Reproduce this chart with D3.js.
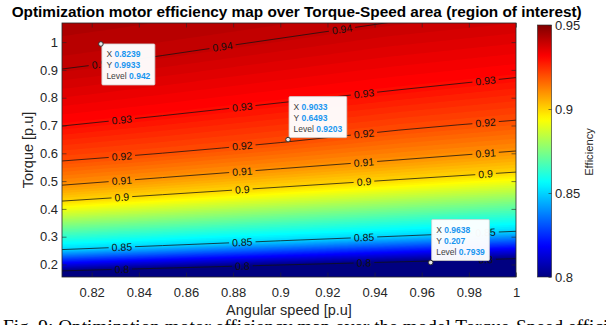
<!DOCTYPE html>
<html><head><meta charset="utf-8">
<script src="https://cdn.jsdelivr.net/npm/d3@7"></script>
<style>
html,body{margin:0;padding:0;background:#fff;}
svg{display:block;font-family:"Liberation Sans",Arial,Helvetica,sans-serif;}
</style></head><body>
<svg id="chart" width="606" height="325"></svg>
<script>
// ---------------- data ----------------
const xDomain = [0.8074, 1.0];          // angular speed [p.u]
const yDomain = [0.155, 1.0687];        // torque [p.u]
const effDomain = [0.80, 0.95];         // colour limits
const xTicks = [0.82, 0.84, 0.86, 0.88, 0.90, 0.92, 0.94, 0.96, 0.98, 1.00];
const yTicks = [0.2, 0.3, 0.4, 0.5, 0.6, 0.7, 0.8, 0.9, 1.0];
const cbTicks = [0.80, 0.85, 0.90, 0.95];

// contour lines: torque at which each level is reached, at these speeds
const speedKnots = [0.8074, 0.85, 0.90, 0.95, 1.00];
const contourLevels = [0.80, 0.85, 0.90, 0.91, 0.92, 0.93];
const torque080 = [0.1770, 0.1867, 0.1982, 0.2094, 0.2209];
const torque085 = [0.2536, 0.2680, 0.2853, 0.3022, 0.3194];
const torque090 = [0.4281, 0.4511, 0.4784, 0.5054, 0.5324];
const torque091 = [0.4853, 0.5126, 0.5446, 0.5763, 0.6083];
const torque092 = [0.5723, 0.6004, 0.6385, 0.6831, 0.7191];
const torque093 = [0.6982, 0.7353, 0.7817, 0.8281, 0.8723];
const speed094 = [0.8074, 0.8243, 0.8755, 0.9262, 0.9503];
const torque094 = [0.9032, 0.9212, 0.9835, 1.0460, 1.0759];
// efficiency along the top and bottom border of the region
const topEdgeSpeed = [0.8074, 0.9444, 1.0];
const topEdgeEff = [0.9435, 0.940, 0.938];
const bottomEdgeSpeed = [0.8074, 1.0];
const bottomEdgeEff = [0.787, 0.755];
// inline contour label positions (speed)
const labelSpeeds = [0.8328, 0.8839, 0.9355, 0.9871];
const labelSpeeds094 = [0.8243, 0.8755, 0.9262];
// data tips
const tipSpeed = [0.8239, 0.9033, 0.9638];
const tipTorque = [0.9933, 0.6493, 0.207];
const tipLevel = ["0.942", "0.9203", "0.7939"];
const tipSide = ["below", "above", "above"];

const titleText = "Optimization motor efficiency map over Torque-Speed area (region of interest)";
const captionText = "Fig. 9: Optimization motor efficiency map over the model Torque-Speed efficiency";

// ---------------- layout ----------------
const svg = d3.select("#chart");
const plot = {left: 62, top: 23, right: 516, bottom: 277};
const x = d3.scaleLinear().domain(xDomain).range([plot.left, plot.right]);
const y = d3.scaleLinear().domain(yDomain).range([plot.bottom, plot.top]);
const cb = {left: 537.5, width: 14, top: 25, bottom: 277};
const cbScale = d3.scaleLinear().domain(effDomain).range([cb.bottom, cb.top]);

function jet(v) {
  const c = a => Math.max(0, Math.min(1, a));
  const r = c(1.5 - Math.abs(4 * v - 3));
  const g = c(1.5 - Math.abs(4 * v - 2));
  const b = c(1.5 - Math.abs(4 * v - 1));
  return d3.rgb(r * 255, g * 255, b * 255).toString();
}
const color = d3.scaleSequential(jet).domain(effDomain).clamp(true);

const torqueSeries = [torque080, torque085, torque090, torque091, torque092, torque093];
const lineSeries = contourLevels.map((lv, k) => ({level: lv, speeds: speedKnots, torques: torqueSeries[k], labels: labelSpeeds}));
lineSeries.push({level: 0.94, speeds: speed094, torques: torque094, labels: labelSpeeds094});
lineSeries.forEach(L => { L.f = d3.scaleLinear().domain(L.speeds).range(L.torques); });

// ---------------- efficiency grid built from the read contours ----------------
const n = 227, m = 127;
const topEff = d3.scaleLinear().domain(topEdgeSpeed).range(topEdgeEff);
const botEff = d3.scaleLinear().domain(bottomEdgeSpeed).range(bottomEdgeEff);
const values = new Array(n * m);
for (let i = 0; i < n; i++) {
  const s = xDomain[0] + (i + 0.5) / n * (xDomain[1] - xDomain[0]);
  const knots = [[yDomain[0], botEff(s)]];
  lineSeries.forEach(L => {
    const t = L.f(s);
    if (t > yDomain[0] && t < yDomain[1]) knots.push([t, L.level]);
  });
  knots.push([yDomain[1], topEff(s)]);
  knots.sort((a, b) => a[0] - b[0]);
  const f = d3.scaleLinear().domain(knots.map(k => k[0])).range(knots.map(k => k[1]));
  for (let j = 0; j < m; j++) {
    const t = yDomain[1] - (j + 0.5) / m * (yDomain[1] - yDomain[0]);
    values[j * n + i] = f(t);
  }
}

const defs = svg.append("defs");
defs.append("clipPath").attr("id", "plotClip").append("rect")
  .attr("x", plot.left).attr("y", plot.top)
  .attr("width", plot.right - plot.left).attr("height", plot.bottom - plot.top);

// filled contours
const step = 0.0015;
const thresholds = d3.range(effDomain[0], effDomain[1] + 1e-4, step);
const bands = d3.contours().size([n, m]).thresholds(thresholds)(values);
const proj = d3.geoTransform({
  point: function (px, py) {
    this.stream.point(
      x(xDomain[0] + px / n * (xDomain[1] - xDomain[0])),
      y(yDomain[1] - py / m * (yDomain[1] - yDomain[0])));
  }
});
const gPath = d3.geoPath(proj);
const fillG = svg.append("g").attr("clip-path", "url(#plotClip)");
fillG.append("rect").attr("x", plot.left).attr("y", plot.top)
  .attr("width", plot.right - plot.left).attr("height", plot.bottom - plot.top)
  .attr("fill", color(effDomain[0] - 0.01));
fillG.selectAll("path.band").data(bands).join("path").attr("class", "band")
  .attr("d", gPath).attr("fill", d => color(d.value + step / 2));

// ---------------- contour lines with inline labels ----------------
const lineGen = d3.line().x(d => x(d[0])).y(d => y(d[1])).curve(d3.curveMonotoneX);
const labelsData = [];
lineSeries.forEach(L => {
  L.labels.forEach(s => {
    const px = x(s), py = y(L.f(s));
    const ds = 0.003;
    const ang = Math.atan2(y(L.f(s + ds)) - y(L.f(s - ds)), x(s + ds) - x(s - ds)) * 180 / Math.PI;
    labelsData.push({px, py, ang, text: String(+L.level.toFixed(2))});
  });
});
const lblG = svg.append("g").attr("clip-path", "url(#plotClip)");
const lbls = lblG.selectAll("text").data(labelsData).join("text")
  .attr("transform", d => `translate(${d.px},${d.py}) rotate(${d.ang})`)
  .attr("text-anchor", "middle").attr("dy", "0.35em")
  .attr("font-size", 10.5).attr("fill", "#111")
  .text(d => d.text);
lbls.each(function (d) { d.w = this.getComputedTextLength(); });

const mask = defs.append("mask").attr("id", "gapMask").attr("maskUnits", "userSpaceOnUse")
  .attr("x", 0).attr("y", 0).attr("width", 606).attr("height", 325);
mask.append("rect").attr("x", 0).attr("y", 0).attr("width", 606).attr("height", 325).attr("fill", "#fff");
mask.selectAll("rect.gap").data(labelsData).join("rect").attr("class", "gap")
  .attr("transform", d => `translate(${d.px},${d.py}) rotate(${d.ang})`)
  .attr("x", d => -d.w / 2 - 3).attr("y", -6).attr("width", d => d.w + 6).attr("height", 12)
  .attr("fill", "#000");

const linesG = svg.append("g").attr("clip-path", "url(#plotClip)")
  .append("g").attr("mask", "url(#gapMask)");
linesG.selectAll("path").data(lineSeries).join("path")
  .attr("d", L => lineGen(L.speeds.map((s, k) => [s, L.torques[k]])))
  .attr("fill", "none").attr("stroke", "#111").attr("stroke-width", 0.75);
lblG.raise();

// ---------------- axes ----------------
const axisColor = "#262626";
const fmt = d => String(+d.toFixed(2));
function styleAxis(g) {
  g.select(".domain").remove();
  g.selectAll(".tick line").attr("stroke", axisColor).attr("stroke-width", 0.6);
  g.selectAll(".tick text").attr("fill", axisColor).attr("font-size", 13)
    .attr("font-family", '"Liberation Sans",Arial,sans-serif');
}
svg.append("g").attr("transform", `translate(0,${plot.bottom})`)
  .call(d3.axisBottom(x).tickValues(xTicks).tickFormat(fmt).tickSize(-4.5).tickPadding(11))
  .call(styleAxis);
svg.append("g").attr("transform", `translate(0,${plot.top})`)
  .call(d3.axisTop(x).tickValues(xTicks).tickFormat("").tickSize(-4.5))
  .call(styleAxis);
svg.append("g").attr("transform", `translate(${plot.left},0)`)
  .call(d3.axisLeft(y).tickValues(yTicks).tickFormat(fmt).tickSize(-4.5).tickPadding(4))
  .call(styleAxis);
svg.append("g").attr("transform", `translate(${plot.right},0)`)
  .call(d3.axisRight(y).tickValues(yTicks).tickFormat("").tickSize(-4.5))
  .call(styleAxis);
svg.append("rect").attr("x", plot.left).attr("y", plot.top)
  .attr("width", plot.right - plot.left).attr("height", plot.bottom - plot.top)
  .attr("fill", "none").attr("stroke", axisColor).attr("stroke-width", 0.8);

// ---------------- colorbar ----------------
const grad = defs.append("linearGradient").attr("id", "cbGrad")
  .attr("x1", 0).attr("y1", 1).attr("x2", 0).attr("y2", 0);
grad.selectAll("stop").data(d3.range(0, 1.0001, 0.02)).join("stop")
  .attr("offset", d => d)
  .attr("stop-color", d => color(effDomain[0] + d * (effDomain[1] - effDomain[0])));
svg.append("rect").attr("x", cb.left).attr("y", cb.top).attr("width", cb.width)
  .attr("height", cb.bottom - cb.top).attr("fill", "url(#cbGrad)")
  .attr("stroke", axisColor).attr("stroke-width", 0.6);
svg.append("g").attr("transform", `translate(${cb.left + cb.width},0)`)
  .call(d3.axisRight(cbScale).tickValues(cbTicks).tickFormat(fmt).tickSize(-3).tickPadding(3.5))
  .call(styleAxis);
svg.append("text").attr("transform", `translate(593,152) rotate(-90)`)
  .attr("text-anchor", "middle").attr("font-size", 11.2).attr("fill", axisColor)
  .text("Efficiency");

// ---------------- titles ----------------
svg.append("text").attr("x", 296.7).attr("y", 17.3).attr("text-anchor", "middle")
  .attr("font-weight", "bold").attr("font-size", 14.3).attr("fill", "#000")
  .attr("textLength", 570).attr("lengthAdjust", "spacingAndGlyphs")
  .text(titleText);
svg.append("text").attr("x", 289).attr("y", 315).attr("text-anchor", "middle")
  .attr("font-size", 14.5).attr("fill", axisColor).text("Angular speed [p.u]");
svg.append("text").attr("transform", "translate(33,150) rotate(-90)")
  .attr("text-anchor", "middle").attr("font-size", 14.5).attr("fill", axisColor)
  .text("Torque [p.u]");
svg.append("text").attr("x", 3).attr("y", 332.5)
  .attr("font-family", '"Liberation Serif","Times New Roman",serif')
  .attr("font-size", 19.3).attr("fill", "#000").text(captionText);

// ---------------- data tips ----------------
const tipG = svg.append("g");
tipSpeed.forEach((s, k) => {
  const mx = x(s), my = y(tipTorque[k]);
  const g = tipG.append("g");
  const lines = [["X", String(s)], ["Y", String(tipTorque[k])], ["Level", tipLevel[k]]];
  const box = g.append("rect").attr("fill", "#fff").attr("fill-opacity", 0.97)
    .attr("stroke", "#cfcfcf").attr("stroke-width", 0.8).attr("rx", 1);
  const txt = g.selectAll("text").data(lines).join("text")
    .attr("font-size", 8.5).attr("fill", "#404040");
  txt.append("tspan").text(d => d[0] + " ");
  txt.append("tspan").attr("font-weight", "bold").attr("fill", "#1a96f0").text(d => d[1]);
  let wMax = 0;
  txt.each(function () { wMax = Math.max(wMax, this.getComputedTextLength()); });
  const bw = wMax + 9, bh = 41;
  const bx = mx + 1;
  const by = tipSide[k] === "below" ? my : my - 2 - bh;
  box.attr("x", bx).attr("y", by).attr("width", bw).attr("height", bh);
  txt.attr("x", bx + 4.5).attr("y", (d, i) => by + 13.3 + i * 11);
  tipG.append("circle").attr("cx", mx).attr("cy", my).attr("r", 2.3)
    .attr("fill", "#e8e8e8").attr("stroke", "#333").attr("stroke-width", 1);
});
</script>
</body></html>
